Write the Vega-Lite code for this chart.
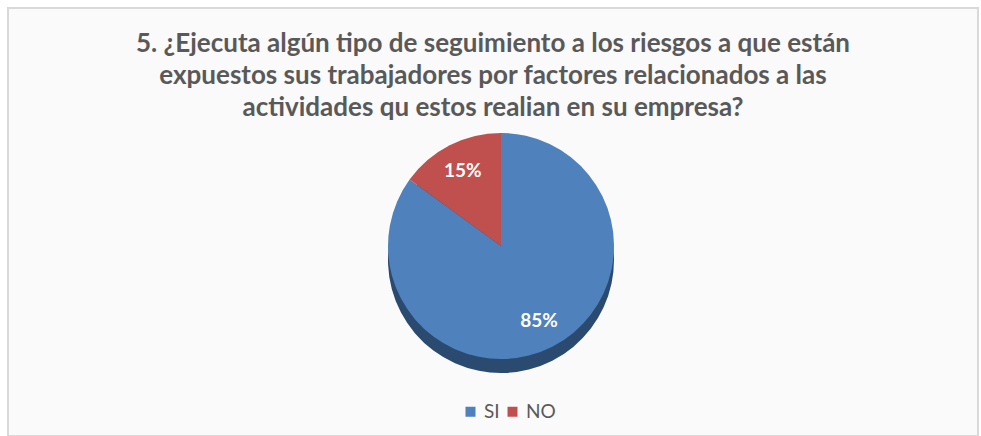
{
  "$schema": "https://vega.github.io/schema/vega-lite/v6.json",
  "autosize": "none",
  "width": 970,
  "height": 428,
  "padding": {"left": 8, "top": 8, "right": 3, "bottom": 0},
  "background": "#ffffff",
  "view": {"stroke": "#d9d9d9", "strokeWidth": 2, "fill": "#fafafa"},
  "config": {
    "font": "Lato"
  },
  "title": {
    "text": ["5. ¿Ejecuta algún tipo de seguimiento a los riesgos a que están", "expuestos sus trabajadores por factores relacionados a las", "actividades qu estos realian en su empresa?"],
    "anchor": "middle",
    "font": "Lato",
    "fontSize": 26,
    "fontWeight": "bold",
    "color": "#595959",
    "lineHeight": 32,
    "offset": -113
  },
  "data": {
    "values": [
      {"respuesta": "SI", "valor": 85, "orden": 1, "etiqueta": "85%"},
      {"respuesta": "NO", "valor": 15, "orden": 2, "etiqueta": "15%"}
    ]
  },
  "encoding": {
    "theta": {"field": "valor", "type": "quantitative", "stack": true},
    "order": {"field": "orden", "type": "quantitative"}
  },
  "layer": [
    {
      "mark": {"type": "arc", "radius": 113, "xOffset": 8, "yOffset": 38, "fill": "#2b4a70"}
    },
    {
      "mark": {"type": "arc", "radius": 113, "xOffset": 8, "yOffset": 24},
      "encoding": {
        "fill": {"field": "respuesta", "type": "nominal", "sort": ["SI", "NO"],
          "scale": {"domain": ["SI", "NO"], "range": ["#4f81bd", "#c0504d"]},
          "legend": {"title": null, "orient": "none", "direction": "horizontal", "legendX": 453, "legendY": 394,
            "symbolType": "square", "symbolSize": 100, "labelFontSize": 19, "labelColor": "#595959", "labelFont": "Lato", "columnPadding": 3, "labelOffset": 4}
        }
      }
    },
    {
      "mark": {"type": "text", "radius": 84, "xOffset": 8, "yOffset": 24, "fontSize": 19, "fontWeight": "bold", "fill": "#ffffff", "font": "Lato"},
      "encoding": {
        "text": {"field": "etiqueta", "type": "nominal"}
      }
    }
  ]
}
